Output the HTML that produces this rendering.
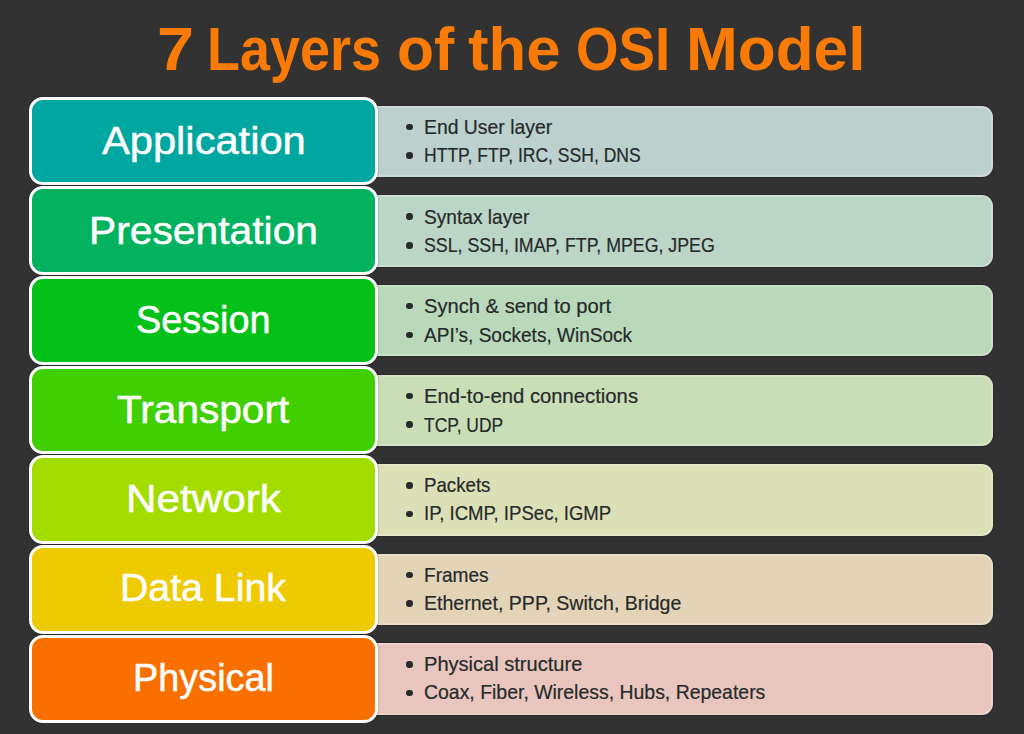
<!DOCTYPE html>
<html><head><meta charset="utf-8">
<style>
html,body{margin:0;padding:0;}
body{width:1024px;height:734px;background:#323232;position:relative;overflow:hidden;font-family:"Liberation Sans",sans-serif;}
.t{position:absolute;line-height:1;white-space:nowrap;transform-origin:0 0;}
.ttl{color:#FA7A06;font-weight:bold;}
.lbl{color:#fff;-webkit-text-stroke:0.5px #fff;}
.it{color:#262a2a;-webkit-text-stroke:0.2px #262a2a;}
.panel{position:absolute;left:360px;width:633.1px;border-radius:11px;box-sizing:border-box;border:2px solid rgba(255,255,255,0.22);box-shadow:0 0 1.5px rgba(0,0,0,0.6);}
.box{position:absolute;left:29.0px;width:348.9px;box-shadow:0 0 1.5px rgba(0,0,0,0.5);border:3.3px solid #fff;border-radius:14px;box-sizing:border-box;}
.b{position:absolute;width:6.5px;height:6.5px;border-radius:50%;background:#262a2a;}
</style></head><body>
<div class="panel" style="top:105.70px;height:71.30px;background:#BCD1CD"></div>
<div class="panel" style="top:195.33px;height:71.30px;background:#BBD5C7"></div>
<div class="panel" style="top:284.96px;height:71.30px;background:#BAD9BA"></div>
<div class="panel" style="top:374.59px;height:71.30px;background:#C9DDB6"></div>
<div class="panel" style="top:464.22px;height:71.30px;background:#DCE0B6"></div>
<div class="panel" style="top:553.85px;height:71.30px;background:#E3D4B8"></div>
<div class="panel" style="top:643.48px;height:71.30px;background:#E8C6BD"></div>
<div class="box" style="top:96.75px;height:88.60px;background:#00A6A0"></div>
<div class="box" style="top:186.39px;height:88.60px;background:#02B25E"></div>
<div class="box" style="top:276.03px;height:88.60px;background:#03C118"></div>
<div class="box" style="top:365.67px;height:88.60px;background:#40CF00"></div>
<div class="box" style="top:455.31px;height:88.60px;background:#A3DD00"></div>
<div class="box" style="top:544.95px;height:88.60px;background:#EDCB00"></div>
<div class="box" style="top:634.59px;height:88.60px;background:#F97000"></div>
<div class="t ttl" style="left:156.53px;top:19.06px;font-size:61.16px;transform:scaleX(1.0893)">7</div>
<div class="t ttl" style="left:207.47px;top:19.06px;font-size:61.16px;transform:scaleX(0.8822)">Layers</div>
<div class="t ttl" style="left:396.52px;top:19.06px;font-size:61.16px;transform:scaleX(0.9911)">of</div>
<div class="t ttl" style="left:467.59px;top:19.06px;font-size:61.16px;transform:scaleX(1.0101)">the</div>
<div class="t ttl" style="left:576.21px;top:19.06px;font-size:61.16px;transform:scaleX(0.8949)">OSI</div>
<div class="t ttl" style="left:685.74px;top:19.06px;font-size:61.16px;transform:scaleX(1.0154)">Model</div>
<div class="t lbl" style="left:102.4px;top:121.13px;font-size:39.2px;transform:scaleX(1.063)">Application</div>
<div class="t lbl" style="left:88.88px;top:211.13px;font-size:39.2px;transform:scaleX(1.0409)">Presentation</div>
<div class="t lbl" style="left:135.87px;top:299.93px;font-size:39.2px;transform:scaleX(0.9644)">Session</div>
<div class="t lbl" style="left:116.66px;top:389.53px;font-size:39.2px;transform:scaleX(1.0358)">Transport</div>
<div class="t lbl" style="left:125.77px;top:478.53px;font-size:39.2px;transform:scaleX(1.078)">Network</div>
<div class="t lbl" style="left:119.99px;top:568.43px;font-size:39.2px;transform:scaleX(1.0018)">Data Link</div>
<div class="t lbl" style="left:132.9px;top:658.23px;font-size:39.2px;transform:scaleX(0.966)">Physical</div>
<div class="t it" style="left:423.8px;top:118.34px;font-size:19.42px;transform:scaleX(0.9984)">End User layer</div>
<div class="t it" style="left:423.8px;top:146.44px;font-size:19.42px;transform:scaleX(0.9038)">HTTP, FTP, IRC, SSH, DNS</div>
<div class="t it" style="left:423.8px;top:207.84px;font-size:19.42px;transform:scaleX(0.986)">Syntax layer</div>
<div class="t it" style="left:423.8px;top:236.44px;font-size:19.42px;transform:scaleX(0.9161)">SSL, SSH, IMAP, FTP, MPEG, JPEG</div>
<div class="t it" style="left:423.8px;top:297.24px;font-size:19.42px;transform:scaleX(1.0383)">Synch &amp; send to port</div>
<div class="t it" style="left:423.8px;top:326.24px;font-size:19.42px;transform:scaleX(0.9811)">API’s, Sockets, WinSock</div>
<div class="t it" style="left:423.8px;top:387.44px;font-size:19.42px;transform:scaleX(1.0441)">End-to-end connections</div>
<div class="t it" style="left:423.8px;top:415.64px;font-size:19.42px;transform:scaleX(0.8989)">TCP, UDP</div>
<div class="t it" style="left:423.8px;top:476.44px;font-size:19.42px;transform:scaleX(0.9618)">Packets</div>
<div class="t it" style="left:423.8px;top:504.44px;font-size:19.42px;transform:scaleX(0.9574)">IP, ICMP, IPSec, IGMP</div>
<div class="t it" style="left:423.8px;top:566.04px;font-size:19.42px;transform:scaleX(0.9831)">Frames</div>
<div class="t it" style="left:423.8px;top:594.14px;font-size:19.42px;transform:scaleX(1.0078)">Ethernet, PPP, Switch, Bridge</div>
<div class="t it" style="left:423.8px;top:655.44px;font-size:19.42px;transform:scaleX(1.0336)">Physical structure</div>
<div class="t it" style="left:423.8px;top:683.44px;font-size:19.42px;transform:scaleX(1.0015)">Coax, Fiber, Wireless, Hubs, Repeaters</div>
<div class="b" style="left:406.25px;top:123.85px"></div>
<div class="b" style="left:406.25px;top:152.45px"></div>
<div class="b" style="left:406.25px;top:213.40px"></div>
<div class="b" style="left:406.25px;top:242.00px"></div>
<div class="b" style="left:406.25px;top:302.95px"></div>
<div class="b" style="left:406.25px;top:331.55px"></div>
<div class="b" style="left:406.25px;top:392.50px"></div>
<div class="b" style="left:406.25px;top:421.10px"></div>
<div class="b" style="left:406.25px;top:482.05px"></div>
<div class="b" style="left:406.25px;top:510.65px"></div>
<div class="b" style="left:406.25px;top:571.60px"></div>
<div class="b" style="left:406.25px;top:600.20px"></div>
<div class="b" style="left:406.25px;top:661.15px"></div>
<div class="b" style="left:406.25px;top:689.75px"></div>
</body></html>
